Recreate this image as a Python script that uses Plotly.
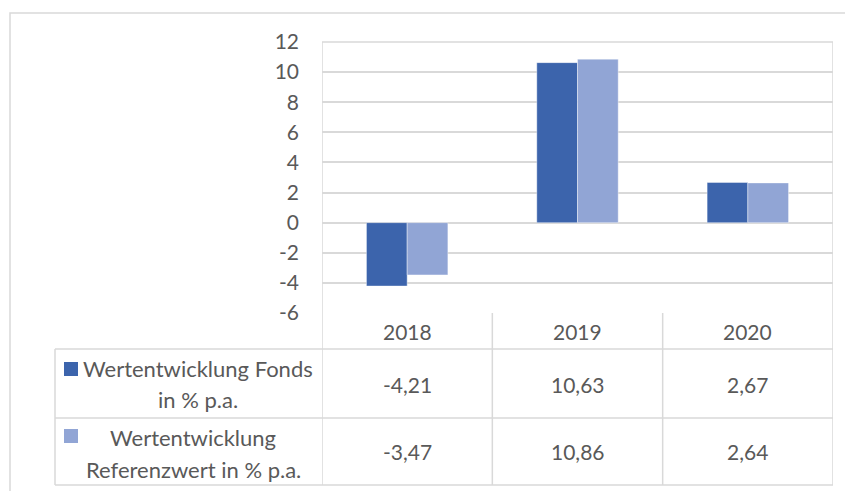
import plotly.graph_objects as go

years = ["2018", "2019", "2020"]
fonds = [-4.21, 10.63, 2.67]
referenz = [-3.47, 10.86, 2.64]
series_names = [["Wertentwicklung Fonds", "in % p.a."],
                ["Wertentwicklung", "Referenzwert in % p.a."]]
y_ticks = [-6, -4, -2, 0, 2, 4, 6, 8, 10, 12]

dark = "#3C64AC"
light = "#91A5D5"
grid = "#D9D9D9"
txt = "#595959"
font = "Lato"

W, H = 853, 491
OFF = 8  # page body margin
# plot area in page pixels
L, R, T, B = 322, 833, 42, 313


def px(x):
    return (x - L) / (R - L)


def py(y):
    return (B - y) / (B - T)


def fmt(v):
    return f"{v:.2f}".replace(".", ",")


fig = go.Figure()
fig.add_bar(x=years, y=fonds, name="Fonds", marker_color=dark,
            marker_line=dict(color="rgba(255,255,255,0.4)", width=1))
fig.add_bar(x=years, y=referenz, name="Referenz", marker_color=light,
            marker_line=dict(color="rgba(255,255,255,0.4)", width=1))

line = dict(color=grid, width=1.5)
shapes = []
# outer chart frame
shapes.append(dict(type="rect", xref="paper", yref="paper",
                   x0=px(10), x1=px(880), y0=py(520), y1=py(13), line=line))
# plot area top and sides down through table
shapes.append(dict(type="line", xref="paper", yref="paper",
                   x0=0, x1=1, y0=1, y1=1, line=line))
for xi in [-0.5, 2.5]:
    shapes.append(dict(type="line", xref="x", yref="paper",
                       x0=xi, x1=xi, y0=py(485), y1=1, line=line))
for xi in [0.5, 1.5]:
    shapes.append(dict(type="line", xref="x", yref="paper",
                       x0=xi, x1=xi, y0=py(485), y1=0, line=line))
# table rows
for yy in [349, 418, 485]:
    shapes.append(dict(type="line", xref="paper", yref="paper",
                       x0=px(55), x1=1, y0=py(yy), y1=py(yy), line=line))
shapes.append(dict(type="line", xref="paper", yref="paper",
                   x0=px(55), x1=px(55), y0=py(485), y1=py(349), line=line))
# legend keys
for (y0, y1), c in zip([(362, 376), (429, 443)], [dark, light]):
    shapes.append(dict(type="rect", xref="paper", yref="paper",
                       x0=px(64), x1=px(78), y0=py(y1), y1=py(y0),
                       fillcolor=c, line=dict(width=0)))

num_font = dict(size=21, color=txt, family=font)
ann = []
row_y = [384, 451]
for vals, ry in zip([fonds, referenz], row_y):
    for i, v in enumerate(vals):
        ann.append(dict(x=i, xref="x", y=py(ry), yref="paper", text=fmt(v),
                        showarrow=False, xanchor="center", yanchor="middle",
                        font=num_font))
for lines_, cx, ys in zip(series_names, [198, 193], [(368, 400), (437, 469)]):
    for t, yy in zip(lines_, ys):
        ann.append(dict(x=px(cx), xref="paper", y=py(yy), yref="paper", text=t,
                        showarrow=False, xanchor="center", yanchor="middle",
                        font=dict(size=22, color=txt, family=font)))
for i, yr in enumerate(years):
    ann.append(dict(x=i, xref="x", y=py(331), yref="paper", text=yr,
                    showarrow=False, xanchor="center", yanchor="middle",
                    font=num_font))

fig.update_layout(
    width=W, height=H,
    margin=dict(l=L - OFF, r=W - (R - OFF), t=T - OFF, b=H - (B - OFF)),
    paper_bgcolor="white", plot_bgcolor="white",
    barmode="group", bargap=0.522, bargroupgap=0,
    showlegend=False,
    font=dict(family=font, size=21, color=txt),
    shapes=shapes, annotations=ann,
    xaxis=dict(type="category", range=[-0.5, 2.5], showticklabels=False,
               showgrid=False, zeroline=False, showline=False, fixedrange=True),
    yaxis=dict(range=[-6, 12], tickvals=y_ticks, ticktext=[str(v) for v in y_ticks],
               showgrid=True, gridcolor=grid, gridwidth=1.5,
               zeroline=True, zerolinecolor=grid, zerolinewidth=1.5,
               showline=False, ticks="", ticklabelstandoff=22, tickfont=num_font),
)

fig.write_html("out.html")
